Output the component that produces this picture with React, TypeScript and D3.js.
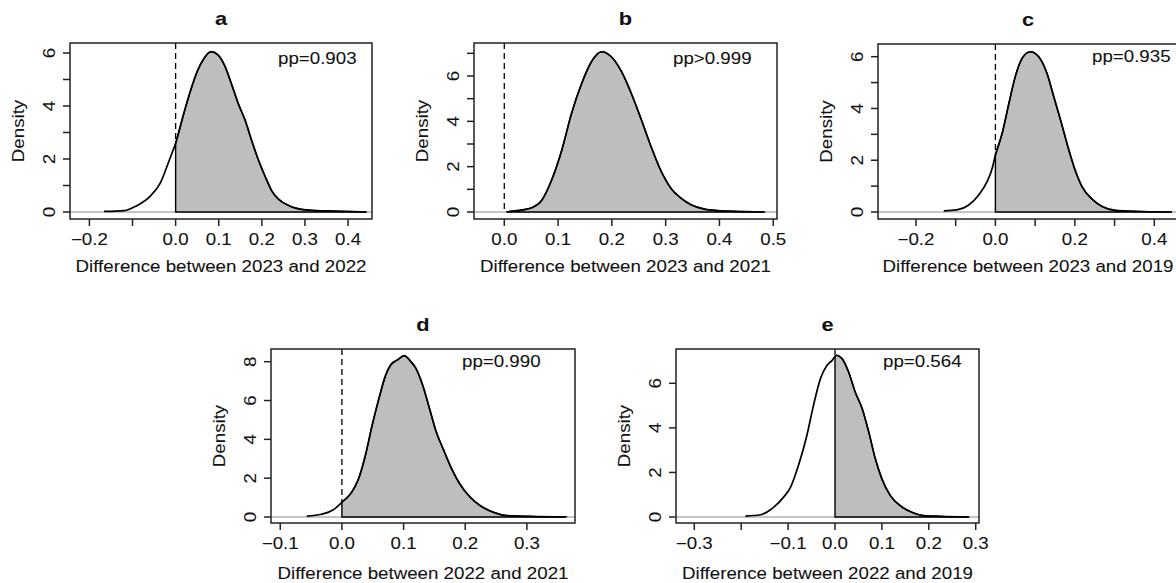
import React from "react";
import * as d3 from "d3";

// ---------- data ----------
const aX = [-0.166,-0.119,-0.091,-0.060,-0.036,-0.013,0.0,0.019,0.035,0.050,0.066,0.082,0.098,0.113,0.129,0.145,0.161,0.176,0.192,0.208,0.224,0.239,0.263,0.302,0.350,0.442];
const aY = [0.02,0.05,0.23,0.58,1.08,2.03,2.59,3.72,4.6,5.3,5.8,6.05,5.93,5.55,4.86,4.1,3.47,2.72,1.96,1.33,0.77,0.48,0.24,0.08,0.04,0.0];

const bX = [0.005,0.033,0.051,0.070,0.088,0.107,0.125,0.144,0.162,0.181,0.199,0.218,0.236,0.255,0.273,0.292,0.310,0.329,0.348,0.372,0.397,0.425,0.483];
const bY = [0.01,0.09,0.19,0.53,1.41,2.74,4.35,5.68,6.63,7.07,6.85,6.19,5.24,4.06,2.88,1.78,1.04,0.60,0.31,0.13,0.06,0.03,0.0];

const cX = [-0.130,-0.097,-0.067,-0.042,-0.021,-0.008,0.0,0.017,0.034,0.050,0.067,0.088,0.109,0.130,0.147,0.164,0.185,0.202,0.218,0.244,0.269,0.303,0.345,0.443];
const cY = [0.04,0.08,0.27,0.66,1.17,1.69,2.2,3.04,4.2,5.23,5.93,6.19,6.0,5.35,4.45,3.55,2.39,1.56,0.98,0.49,0.21,0.06,0.03,0.0];

const dX = [-0.057,-0.033,-0.016,0.0,0.016,0.027,0.038,0.049,0.060,0.071,0.079,0.090,0.101,0.112,0.120,0.131,0.142,0.153,0.164,0.178,0.191,0.208,0.224,0.246,0.268,0.306,0.363];
const dY = [0.05,0.14,0.33,0.76,1.28,1.97,3.17,4.72,6.1,7.31,7.83,8.09,8.31,8.0,7.66,6.79,5.59,4.38,3.52,2.48,1.71,1.02,0.59,0.24,0.07,0.03,0.0];

const eX = [-0.191,-0.159,-0.131,-0.110,-0.095,-0.078,-0.060,-0.046,-0.031,-0.017,-0.006,0.003,0.015,0.029,0.043,0.058,0.072,0.086,0.100,0.118,0.139,0.164,0.189,0.225,0.285];
const eY = [0.04,0.10,0.43,0.88,1.33,2.31,3.66,5.0,6.21,6.81,7.03,7.26,7.11,6.51,5.61,4.86,3.81,2.61,1.71,0.96,0.51,0.21,0.06,0.03,0.0];

const titles = ["a", "b", "c", "d", "e"];
const xTitles = [
  "Difference between 2023 and 2022",
  "Difference between 2023 and 2021",
  "Difference between 2023 and 2019",
  "Difference between 2022 and 2021",
  "Difference between 2022 and 2019",
];
const ppLabels = ["pp=0.903", "pp>0.999", "pp=0.935", "pp=0.990", "pp=0.564"];

const aXTicks = [-0.2,-0.1,0,0.1,0.2,0.3,0.4];
const aXLabels = [-0.2,0,0.1,0.2,0.3,0.4];
const bXTicks = [0,0.1,0.2,0.3,0.4,0.5];
const bXLabels = [0,0.1,0.2,0.3,0.4,0.5];
const cXTicks = [-0.2,-0.1,0,0.1,0.2,0.3,0.4];
const cXLabels = [-0.2,0,0.2,0.4];
const dXTicks = [-0.1,0,0.1,0.2,0.3];
const dXLabels = [-0.1,0,0.1,0.2,0.3];
const eXTicks = [-0.3,-0.2,-0.1,0,0.1,0.2,0.3];
const eXLabels = [-0.3,-0.1,0,0.1,0.2,0.3];

const aYTicks = [0,1,2,3,4,5,6];
const bYTicks = [0,1,2,3,4,5,6,7];
const cYTicks = [0,1,2,3,4,5,6];
const dYTicks = [0,2,4,6,8];
const eYTicks = [0,2,4,6];
const yLabelsAC = [0,2,4,6];
const yLabelsD = [0,2,4,6,8];

// ---------- layout ----------
const panels = [
  { xs: aX, ys: aY, xt: aXTicks, xl: aXLabels, yt: aYTicks, yl: yLabelsAC, box: [70, 372, 43, 219], xd: [-0.245, 0.4555], yd: [-0.264, 6.377], pp: [278, 64] },
  { xs: bX, ys: bY, xt: bXTicks, xl: bXLabels, yt: bYTicks, yl: yLabelsAC, box: [474, 777, 43, 219], xd: [-0.0563, 0.507], yd: [-0.309, 7.456], pp: [673, 64] },
  { xs: cX, ys: cY, xt: cXTicks, xl: cXLabels, yt: cYTicks, yl: yLabelsAC, box: [878, 1178, 44, 219], xd: [-0.2956, 0.4597], yd: [-0.27, 6.49], pp: [1092, 62] },
  { xs: dX, ys: dY, xt: dXTicks, xl: dXLabels, yt: dYTicks, yl: yLabelsD, box: [271, 575, 349, 523], xd: [-0.115, 0.378], yd: [-0.309, 8.654], pp: [462, 367] },
  { xs: eX, ys: eY, xt: eXTicks, xl: eXLabels, yt: eYTicks, yl: yLabelsAC, box: [676, 979, 349, 523], xd: [-0.339, 0.307], yd: [-0.269, 7.54], pp: [883, 367] },
];

const FONT = "'Liberation Sans', Arial, Helvetica, sans-serif";
const SX = 1.17;
const FS = 16;

function T(props: { x: number; y: number; rot?: number; size?: number; anchor?: string; bold?: boolean; children: any }) {
  const { x, y, rot = 0, size = FS, anchor = "middle", bold = false, children } = props;
  return (
    <text
      transform={`translate(${x},${y}) rotate(${rot}) scale(${SX},1)`}
      textAnchor={anchor as any}
      fontSize={size}
      fontFamily={FONT}
      fontWeight={bold ? "bold" : "normal"}
      fill="#111"
      stroke="#111"
      strokeWidth={0.08}
    >
      {children}
    </text>
  );
}

const fmt = (v: number) => (Math.abs(v) < 1e-9 ? "0.0" : d3.format(".1f")(v));

function Panel({ p, i }: { p: any; i: number }) {
  const [L, R, Tp, B] = p.box;
  const x = d3.scaleLinear().domain(p.xd).range([L, R]);
  const y = d3.scaleLinear().domain(p.yd).range([B, Tp]);
  const pts: [number, number][] = p.xs.map((v: number, k: number) => [v, p.ys[k]]);

  // value of the curve at x = 0 (linear between neighbours)
  let y0: number | null = null;
  for (let k = 0; k < pts.length - 1; k++) {
    if (pts[k][0] <= 0 && pts[k + 1][0] >= 0) {
      const t = (0 - pts[k][0]) / (pts[k + 1][0] - pts[k][0]);
      y0 = pts[k][1] + t * (pts[k + 1][1] - pts[k][1]);
      break;
    }
  }
  const right = pts.filter((q) => q[0] > 0);
  const polyCurve = y0 !== null ? ([[0, y0], ...right] as [number, number][]) : right;
  const lineGen = d3.line<[number, number]>().x((d) => x(d[0])).y((d) => y(d[1])).curve(d3.curveMonotoneX);
  const curvePath = lineGen(polyCurve) || "";
  const polyPath =
    `M${x(polyCurve[0][0])},${y(0)}L` + curvePath.slice(1) + `L${x(right[right.length - 1][0])},${y(0)}Z`;
  const topDash = y0 !== null ? y0 : 0;
  const cx = (L + R) / 2;
  const cy = (Tp + B) / 2;
  const clipId = `clip${i}`;
  return (
    <g>
      <defs>
        <clipPath id={clipId}>
          <rect x={L} y={Tp} width={R - L} height={B - Tp} />
        </clipPath>
      </defs>
      <g clipPath={`url(#${clipId})`}>
        <line x1={L} x2={R} y1={y(0)} y2={y(0)} stroke="#c4c4c4" strokeWidth={2.2} />
        <path d={polyPath} fill="#bebebe" stroke="#000" strokeWidth={1.4} />
        <path d={lineGen(pts) || ""} fill="none" stroke="#000" strokeWidth={1.7} />
        <line x1={x(0)} x2={x(0)} y1={Tp} y2={y(topDash)} stroke="#000" strokeWidth={1.3} strokeDasharray="6,4" />
      </g>
      <rect x={L} y={Tp} width={R - L} height={B - Tp} fill="none" stroke="#222" strokeWidth={1.5} />
      {/* x axis */}
      {p.xt.map((v: number) => (
        <line key={"xt" + v} x1={x(v)} x2={x(v)} y1={B} y2={B + 7} stroke="#222" strokeWidth={1.5} />
      ))}
      {p.xl.map((v: number) => (
        <T key={"xl" + v} x={x(v)} y={B + 26}>{fmt(v)}</T>
      ))}
      {/* y axis */}
      {p.yt.map((v: number) => (
        <line key={"yt" + v} x1={L - 7} x2={L} y1={y(v)} y2={y(v)} stroke="#222" strokeWidth={1.5} />
      ))}
      {p.yl.map((v: number) => (
        <T key={"yl" + v} x={L - 15.5} y={y(v)} rot={-90}>{String(v)}</T>
      ))}
      <T x={cx} y={Tp - 18} size={18.6} bold>{titles[i]}</T>
      <T x={cx} y={B + (i < 3 ? 53 : 56)}>{xTitles[i]}</T>
      <T x={L - 46} y={cy} rot={-90}>Density</T>
      <T x={p.pp[0]} y={p.pp[1]} anchor="start">{ppLabels[i]}</T>
    </g>
  );
}

export default function App() {
  return (
    <svg
      width={1176}
      height={583}
      viewBox="0 0 1176 583"
      style={{ position: "absolute", left: 0, top: 0, background: "#fff" }}
    >
      <rect x={0} y={0} width={1176} height={583} fill="#fff" />
      {panels.map((p, i) => (
        <Panel key={i} p={p} i={i} />
      ))}
    </svg>
  );
}
